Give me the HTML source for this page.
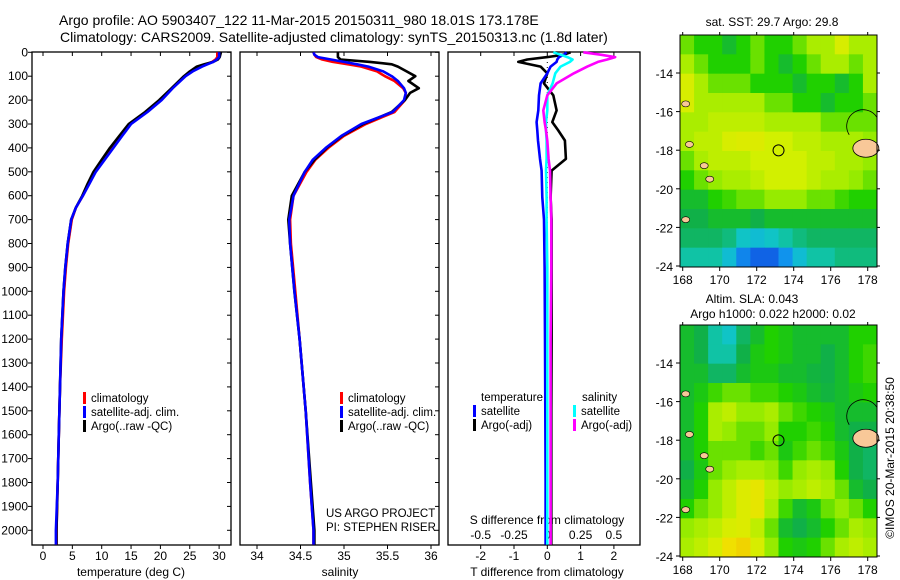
<!DOCTYPE html>
<html><head><meta charset="utf-8"><style>
body{margin:0;background:#fff;}
svg{display:block;font-family:"Liberation Sans",sans-serif;}
text{font-size:12px;fill:#000;}
.t{font-size:14px;}
.lg{font-size:11.5px;}
</style></head><body>
<svg id="s" width="900" height="580" viewBox="0 0 900 580">
<text class="t" x="59" y="25">Argo profile: AO 5903407_122 11-Mar-2015 20150311_980 18.01S 173.178E</text>
<text class="t" x="60" y="42">Climatology: CARS2009. Satellite-adjusted climatology: synTS_20150313.nc (1.8d later)</text>
<g id="g"></g>
</svg>
<script>
// ---- profile data ----
const tDepth=[0,20,30,40,50,60,80,100,150,200,250,300,350,400,450,500,550,600,650,700,800,900,1000,1200,1400,1600,1800,2000,2060];
const tClim=[29.7,29.7,29.4,28.8,27.8,26.8,25.4,24.2,22.0,20.0,17.6,14.8,13.2,11.7,10.3,8.9,7.8,6.8,5.6,4.9,4.3,3.9,3.6,3.2,2.9,2.7,2.5,2.3,2.3];
const tSat=[30.0,30.0,29.6,29.0,28.0,27.1,25.5,24.3,22.1,20.2,17.8,15.0,13.5,12.0,10.5,9.0,7.9,6.8,5.6,4.8,4.2,3.8,3.5,3.1,2.9,2.7,2.5,2.2,2.2];
const tArgo=[30.3,30.1,29.8,29.0,27.5,26.2,25.0,24.0,21.9,19.8,17.4,14.6,13.0,11.4,10.0,8.6,7.6,6.7,5.6,4.8,4.2,3.8,3.5,3.1,2.9,2.7,2.5,2.3,2.3];
const sDepth=[0,10,20,30,40,50,60,80,100,120,150,170,200,250,300,350,400,450,500,600,700,800,1000,1200,1500,1800,2000,2060];
const sClim=[34.65,34.66,34.68,34.75,34.87,35.05,35.2,35.38,35.47,35.58,35.68,35.71,35.7,35.58,35.25,35.0,34.82,34.67,34.57,34.42,34.38,34.39,34.44,34.49,34.56,34.61,34.65,34.65];
const sSat=[34.65,34.66,34.7,34.85,35.0,35.15,35.28,35.45,35.55,35.62,35.69,35.71,35.69,35.56,35.2,34.97,34.79,34.64,34.55,34.42,34.37,34.38,34.43,34.49,34.56,34.61,34.65,34.65];
const sArgo=[34.93,34.93,34.93,34.96,35.3,35.55,35.62,35.72,35.82,35.74,35.86,35.76,35.7,35.55,35.22,34.98,34.8,34.66,34.55,34.4,34.36,34.38,34.43,34.49,34.56,34.62,34.66,34.66];
const dDepth=[0,10,20,30,40,60,88,130,180,243,292,327,369,446,495,607,700,900,1200,1500,1800,2060];
const dTsat=[0.58,0.5,0.35,0.3,0.28,0.1,0.0,-0.2,-0.25,-0.27,-0.32,-0.3,-0.28,-0.22,-0.17,-0.15,-0.1,-0.08,-0.07,-0.06,-0.05,-0.05];
const dTargo=[0.7,0.5,0.0,-0.6,-0.87,-0.2,0.0,-0.1,0.18,0.28,0.15,0.33,0.53,0.56,0.13,0.1,0.13,0.13,0.13,0.12,0.12,0.12];
const dSsat=[0.045,0.1,0.15,0.19,0.17,0.1,0.06,0.04,0.0,0.0,-0.01,-0.01,-0.005,-0.005,-0.01,-0.005,-0.005,0.0,0.0,0.0,0.0,0.0];
const dSargo=[0.27,0.4,0.51,0.45,0.38,0.3,0.2,0.07,0.0,-0.03,-0.02,-0.01,0.0,0.01,0.02,0.025,0.03,0.03,0.025,0.025,0.025,0.025];
const depthTicks=[0,100,200,300,400,500,600,700,800,900,1000,1100,1200,1300,1400,1500,1600,1700,1800,1900,2000];
const tTicks=[0,5,10,15,20,25,30];
const sTicks=[34,34.5,35,35.5,36];
const sTickLbl=["34","34.5","35","35.5","36"];
const dTTicks=[-2,-1,0,1,2];
const dSTicks=[-0.5,-0.25,0,0.25,0.5];
const dSLbl=["-0.5","-0.25","0","0.25","0.5"];
// ---- map data ----
const lonTicks=[168,170,172,174,176,178];
const latTicks=[-14,-16,-18,-20,-22,-24];
const sstGrid=[
[.55,.5,.5,.45,.5,.55,.5,.5,.55,.6,.6,.65,.6,.6],
[.6,.55,.5,.5,.5,.55,.5,.45,.5,.55,.6,.6,.55,.6],
[.65,.6,.55,.55,.55,.5,.5,.5,.45,.5,.5,.45,.5,.6],
[.65,.6,.6,.6,.6,.6,.55,.55,.5,.5,.45,.5,.5,.55],
[.6,.6,.62,.62,.62,.62,.6,.6,.6,.6,.55,.55,.55,.55],
[.6,.62,.62,.65,.66,.66,.64,.64,.62,.62,.6,.6,.6,.58],
[.55,.6,.62,.62,.62,.64,.64,.64,.64,.62,.62,.6,.6,.58],
[.5,.55,.58,.6,.6,.62,.64,.64,.64,.62,.6,.6,.58,.55],
[.45,.45,.5,.52,.55,.55,.58,.58,.58,.55,.55,.52,.5,.5],
[.42,.42,.45,.45,.45,.42,.45,.45,.45,.45,.45,.45,.45,.45],
[.4,.4,.4,.38,.32,.3,.32,.35,.38,.4,.4,.4,.4,.4],
[.35,.35,.35,.3,.2,.15,.15,.22,.3,.35,.35,.38,.38,.38]];
const slaGrid=[
[.45,.42,.35,.32,.4,.45,.5,.48,.45,.45,.45,.45,.5,.5],
[.45,.42,.35,.35,.42,.48,.5,.48,.45,.45,.42,.45,.5,.52],
[.45,.45,.4,.4,.45,.48,.48,.45,.45,.43,.42,.45,.5,.52],
[.45,.48,.52,.55,.55,.52,.52,.5,.48,.45,.43,.45,.48,.5],
[.45,.5,.6,.62,.58,.58,.6,.55,.52,.5,.48,.45,.45,.45],
[.45,.5,.6,.58,.55,.55,.58,.5,.5,.52,.5,.45,.42,.42],
[.45,.5,.55,.55,.55,.52,.55,.48,.52,.55,.52,.48,.42,.4],
[.42,.48,.55,.58,.6,.6,.58,.52,.58,.6,.58,.5,.42,.4],
[.45,.5,.58,.62,.66,.68,.62,.58,.6,.62,.6,.55,.45,.42],
[.5,.55,.58,.62,.66,.68,.6,.52,.45,.48,.55,.58,.55,.5],
[.58,.6,.62,.65,.66,.62,.55,.45,.42,.45,.5,.55,.6,.58],
[.6,.62,.65,.7,.72,.65,.58,.5,.48,.5,.55,.6,.62,.6]];
const argoLon=173.18, argoLat=-18.01;

const NS='http://www.w3.org/2000/svg';
const G=document.getElementById('g');
function mk(tag,at,name,parent){const e=document.createElementNS(NS,tag);for(const k in at)e.setAttribute(k,at[k]);


(parent||G).appendChild(e);return e;}
function txt(x,y,s,name,anchor,extra){const e=mk('text',Object.assign({x:x,y:y,'text-anchor':anchor||'start'},extra||{}),name);e.textContent=s;return e;}
const yD=d=>52.3+d*0.239;
const T0=32,T1=231,S0=240,S1=439,D0=448,D1=640,TOP=52,BOT=545;
const xT=v=>43+v*5.87, xS=v=>257+(v-34)*87, xDT=v=>547.3+v*33.3, xDS=v=>547.3+v*133.2;
function frame(x0,x1,name){mk('rect',{x:x0,y:TOP,width:x1-x0,height:BOT-TOP,fill:'none',stroke:'#000','stroke-width':1.3},name);}
function line(xs,ds,fx,col,name){mk('polyline',{points:xs.map((v,i)=>fx(v).toFixed(1)+','+yD(ds[i]).toFixed(1)).join(' '),fill:'none',stroke:col,'stroke-width':2.6,'stroke-linejoin':'round'},name);}
// panel 1
frame(T0,T1,'temperature-panel');
depthTicks.forEach(d=>{const y=yD(d);mk('line',{x1:T0-4,x2:T0,y1:y,y2:y,stroke:'#000'},'depth-tick');mk('line',{x1:T1-4,x2:T1,y1:y,y2:y,stroke:'#000'},'depth-tick-right');mk('line',{x1:S1-4,x2:S1,y1:y,y2:y,stroke:'#000'},'depth-tick-right');txt(28,y+4,String(d),'depth-label','end');});
tTicks.forEach(v=>{const x=xT(v);mk('line',{x1:x,x2:x,y1:BOT,y2:BOT+4,stroke:'#000'},'temp-tick');mk('line',{x1:x,x2:x,y1:TOP,y2:TOP+4,stroke:'#000'},'temp-tick-top');txt(x,560,String(v),'temp-tick-label','middle');});
txt(131,576,'temperature (deg C)','temperature-axis-title','middle');
line(tClim,tDepth,xT,'#f00','temp-climatology-line');
line(tArgo,tDepth,xT,'#000','temp-argo-line');
line(tSat,tDepth,xT,'#00f','temp-satellite-line');
// panel 2
frame(S0,S1,'salinity-panel');
sTicks.forEach((v,i)=>{const x=xS(v);mk('line',{x1:x,x2:x,y1:BOT,y2:BOT+4,stroke:'#000'},'sal-tick');mk('line',{x1:x,x2:x,y1:TOP,y2:TOP+4,stroke:'#000'},'sal-tick-top');txt(x,560,sTickLbl[i],'sal-tick-label','middle');});
txt(340,576,'salinity','salinity-axis-title','middle');
line(sClim,sDepth,xS,'#f00','sal-climatology-line');
line(sArgo,sDepth,xS,'#000','sal-argo-line');
line(sSat,sDepth,xS,'#00f','sal-satellite-line');
txt(326,517,'US ARGO PROJECT','project-label','start',{'class':'lg'});
txt(326,531,'PI: STEPHEN RISER','pi-label','start',{'class':'lg'});
// legends
function leg(x,y,col,s,name){mk('rect',{x:x,y:y-10,width:3,height:12,fill:col},name+'-marker');txt(x+8,y,s,name,'start',{'class':'lg'});}
leg(83,402,'#f00','climatology','legend-climatology');leg(83,416,'#00f','satellite-adj. clim.','legend-satellite');leg(83,430,'#000','Argo(..raw -QC)','legend-argo');
leg(340,402,'#f00','climatology','legend-climatology-2');leg(340,416,'#00f','satellite-adj. clim.','legend-satellite-2');leg(340,430,'#000','Argo(..raw -QC)','legend-argo-2');
// panel 3
frame(D0,D1,'difference-panel');
mk('line',{x1:xDT(0),x2:xDT(0),y1:TOP,y2:BOT,stroke:'#000','stroke-dasharray':'1,4'},'zero-line');
dTTicks.forEach(v=>{const x=xDT(v);mk('line',{x1:x,x2:x,y1:BOT,y2:BOT+4,stroke:'#000'},'dt-tick');mk('line',{x1:x,x2:x,y1:TOP,y2:TOP+4,stroke:'#000'},'dt-tick-top');txt(x,560,String(v),'dt-tick-label','middle');});
dSTicks.forEach((v,i)=>{txt(xDS(v),539,dSLbl[i],'ds-tick-label','middle');});
txt(547,524,'S difference from climatology','s-diff-axis-title','middle');
txt(547,576,'T difference from climatology','t-diff-axis-title','middle');
line(dTargo,dDepth,xDT,'#000','t-argo-diff-line');
line(dTsat,dDepth,xDT,'#00f','t-sat-diff-line');
line(dSsat,dDepth,xDS,'#0ff','s-sat-diff-line');
line(dSargo,dDepth,xDS,'#f0f','s-argo-diff-line');
txt(481,401,'temperature','legend-temperature-header','start',{'class':'lg'});txt(582,401,'salinity','legend-salinity-header','start',{'class':'lg'});
leg(473,415,'#00f','satellite','legend-t-satellite');leg(473,429,'#000','Argo(-adj)','legend-t-argo');
leg(573,415,'#0ff','satellite','legend-s-satellite');leg(573,429,'#f0f','Argo(-adj)','legend-s-argo');
// colormap
const stops=[[0.1,[16,64,224]],[0.25,[16,168,240]],[0.33,[16,200,192]],[0.42,[16,176,72]],[0.5,[32,208,0]],[0.58,[150,235,0]],[0.64,[210,240,0]],[0.7,[240,224,0]],[0.8,[240,160,0]],[0.9,[224,32,0]]];
function cmap(v){if(v<=stops[0][0])return 'rgb('+stops[0][1]+')';for(let i=1;i<stops.length;i++){if(v<=stops[i][0]){const a=stops[i-1],b=stops[i],f=(v-a[0])/(b[0]-a[0]);return 'rgb('+a[1].map((c,k)=>Math.round(c+(b[1][k]-c)*f))+')';}}return 'rgb('+stops[stops.length-1][1]+')';}
function map(grid,top,name){
 const x0=680,x1=877,bot=top+232;
 const lx=l=>682.7+(l-168)*18.5, ly=l=>top+38+(-14-l)*19.3;
 const rows=grid.length,cols=grid[0].length,cw=(x1-x0)/cols,ch=(bot-top)/rows;
 grid.forEach((r,i)=>r.forEach((v,j)=>{mk('rect',{x:(x0+j*cw).toFixed(2),y:(top+i*ch).toFixed(2),width:(cw+0.5).toFixed(2),height:(ch+0.5).toFixed(2),fill:cmap(v)},name+'-cell');}));
 mk('ellipse',{cx:lx(177.9),cy:ly(-17.9),rx:13,ry:9,fill:'#f8c898',stroke:'#000','stroke-width':0.8},name+'-island-fiji');
 mk('path',{d:'M'+lx(177)+','+ly(-17.2)+' A16 16 0 0 1 '+x1+','+ly(-16.3),fill:'none',stroke:'#000','stroke-width':0.8},name+'-reef');
 [[169,-18.8],[168.2,-17.7],[169.3,-19.5],[168,-21.6],[168,-15.6]].forEach(p=>mk('ellipse',{cx:lx(p[0])+3,cy:ly(p[1]),rx:4,ry:3,fill:'#f8c898',stroke:'#000','stroke-width':0.6},name+'-island'));
 mk('circle',{cx:lx(argoLon),cy:ly(argoLat),r:5.5,fill:'none',stroke:'#000','stroke-width':1},name+'-argo-location');
 mk('rect',{x:x0,y:top,width:x1-x0,height:bot-top,fill:'none',stroke:'#000','stroke-width':1},name+'-frame');
 lonTicks.forEach(l=>{const x=lx(l);mk('line',{x1:x,x2:x,y1:bot,y2:bot+4,stroke:'#000'},name+'-lon-tick');mk('line',{x1:x,x2:x,y1:top-3,y2:top,stroke:'#000'},name+'-lon-tick-top');txt(x,bot+17,String(l),name+'-lon-label','middle',{'font-size':'13'});});
 latTicks.forEach(l=>{const y=ly(l);mk('line',{x1:x0-4,x2:x0,y1:y,y2:y,stroke:'#000'},name+'-lat-tick');mk('line',{x1:x1,x2:x1+3,y1:y,y2:y,stroke:'#000'},name+'-lat-tick-right');txt(673,y+5,String(l),name+'-lat-label','end',{'font-size':'13'});});
}
map(sstGrid,35,'sst-map');
map(slaGrid,325,'sla-map');
txt(772,26,'sat. SST: 29.7 Argo: 29.8','sst-map-title','middle');
txt(752,303,'Altim. SLA: 0.043','sla-map-title','middle');
txt(773,318,'Argo h1000: 0.022 h2000: 0.02','sla-map-subtitle','middle');
txt(0,0,'©IMOS 20-Mar-2015 20:38:50','timestamp-label','middle',{transform:'translate(894,458) rotate(-90)'});
</script>
</body></html>
